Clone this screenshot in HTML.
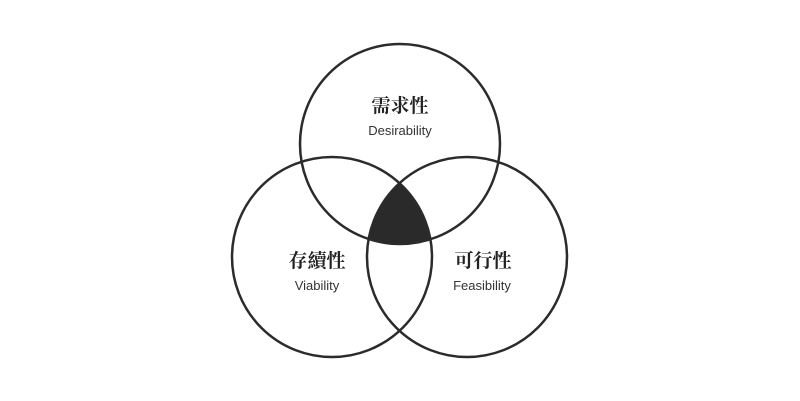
<!DOCTYPE html>
<html><head><meta charset="utf-8"><style>
html,body{margin:0;padding:0;background:#fff;}
svg{display:block}
.zh{font-family:"Noto Serif CJK SC","Noto Sans CJK TC",serif;font-weight:bold;font-size:19px;fill:#222;}
.en{font-family:"Liberation Sans",sans-serif;font-size:13px;fill:#333;}
</style></head><body>
<svg width="800" height="401" viewBox="0 0 800 401" xmlns="http://www.w3.org/2000/svg">
<defs>
<clipPath id="cl"><circle cx="332" cy="257" r="100"/></clipPath>
<clipPath id="cr"><circle cx="467" cy="257" r="100"/></clipPath>
</defs>
<g clip-path="url(#cl)"><g clip-path="url(#cr)"><circle cx="400" cy="144" r="100" fill="#2a2a2a"/></g></g>
<g fill="none" stroke="#2b2b2b" stroke-width="2.5">
<circle cx="400" cy="144" r="100"/>
<circle cx="332" cy="257" r="100"/>
<circle cx="467" cy="257" r="100"/>
</g>
<text class="zh" x="400" y="112" text-anchor="middle">需求性</text>
<text class="en" x="400" y="135" text-anchor="middle">Desirability</text>
<text class="zh" x="317" y="267" text-anchor="middle">存續性</text>
<text class="en" x="317" y="290" text-anchor="middle">Viability</text>
<text class="zh" x="483" y="267" text-anchor="middle">可行性</text>
<text class="en" x="482" y="290" text-anchor="middle">Feasibility</text>
</svg>
</body></html>
